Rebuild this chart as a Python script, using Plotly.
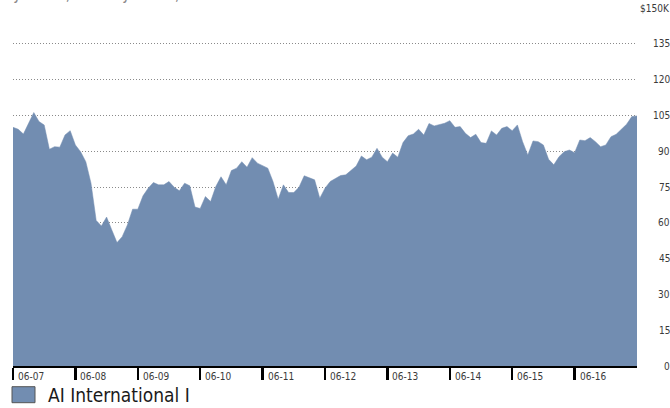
import plotly.graph_objects as go

# Monthly growth of a hypothetical $100K investment, June 2007 - June 2017 (in $K)
values = [
    100.0, 99.2, 97.2, 101.7, 106.2, 102.4, 101.0, 90.8, 91.9, 91.7,
    96.8, 98.6, 92.6, 89.8, 85.6, 76.6, 61.0, 58.7, 62.4, 57.0,
    51.7, 54.2, 59.1, 65.7, 65.7, 71.3, 74.5, 76.9, 75.9, 75.9,
    77.3, 74.9, 73.4, 76.6, 75.5, 66.6, 66.0, 71.0, 68.9, 75.2,
    79.3, 75.9, 81.9, 82.9, 85.6, 83.3, 87.3, 85.0, 83.8, 82.9,
    77.3, 69.9, 75.9, 72.7, 72.7, 74.9, 79.7, 78.7, 78.0, 70.3,
    74.5, 77.3, 78.4, 79.8, 80.1, 81.9, 83.8, 88.0, 86.4, 87.5,
    91.2, 87.5, 85.6, 89.2, 87.5, 93.6, 96.5, 97.2, 99.2, 96.8,
    101.6, 100.6, 101.0, 101.7, 102.8, 100.0, 100.3, 97.5, 95.7, 97.1,
    93.6, 93.3, 98.5, 96.8, 99.6, 100.3, 98.6, 101.0, 94.0, 88.4,
    94.3, 94.0, 92.6, 86.6, 84.3, 87.7, 89.8, 90.5, 89.4, 94.7,
    94.4, 95.7, 94.0, 91.9, 92.6, 96.1, 97.1, 99.2, 101.3, 104.5,
    104.8,
]
month_index = list(range(len(values)))

year_tick_months = [0, 12, 24, 36, 48, 60, 72, 84, 96, 108]
year_tick_labels = ["06-07", "06-08", "06-09", "06-10", "06-11",
                    "06-12", "06-13", "06-14", "06-15", "06-16"]
y_tick_values = [0, 15, 30, 45, 60, 75, 90, 105, 120, 135, 150]
y_tick_labels = ["0", "15", "30", "45", "60", "75", "90", "105", "120", "135", "$150K"]

series_name = "AI International I"
title_text = "June 30, 2007 \u2013 June 30, 2017"

AREA = "#728DB1"
FONT = "Liberation Sans Narrow, Arial Narrow, DejaVu Sans Condensed, sans-serif"

fig = go.Figure()
fig.add_trace(go.Scatter(
    x=month_index, y=values, mode="lines", fill="tozeroy",
    line=dict(color=AREA, width=0.5), fillcolor=AREA,
    name=series_name, showlegend=False, hoverinfo="skip",
))

annotations = []
for m, lab in zip(year_tick_months, year_tick_labels):
    annotations.append(dict(
        x=m, xref="x", y=0, yref="paper", text=lab, showarrow=False,
        xanchor="left", yanchor="top", xshift=3, yshift=-3,
        font=dict(family=FONT, size=10, color="#3a3a3a"),
    ))
for v, lab in zip(y_tick_values, y_tick_labels):
    annotations.append(dict(
        x=1, xref="paper", y=v, yref="y", text=lab, showarrow=False,
        xanchor="right", yanchor="middle", xshift=35,
        font=dict(family=FONT, size=10, color="#3a3a3a"),
    ))
# legend label
annotations.append(dict(
    x=(46 - 13) / 624, xref="paper", y=-(395 - 366.3) / 358, yref="paper",
    text=series_name, showarrow=False, xanchor="left", yanchor="middle",
    font=dict(family=FONT, size=19, color="#1a1a1a"),
))
# partially visible title
annotations.append(dict(
    x=0, xref="paper", y=1, yref="paper", text=title_text, showarrow=False,
    xanchor="left", yanchor="bottom", xshift=-1, yshift=2,
    font=dict(family=FONT, size=15, color="#8a8a8a"),
))

shapes = [dict(
    type="rect", xref="paper", yref="paper",
    x0=(12 - 13) / 624, x1=(35 - 13) / 624,
    y0=-(403 - 366.3) / 358, y1=-(387 - 366.3) / 358,
    fillcolor=AREA, line=dict(color="#555555", width=1),
)]

fig.update_layout(
    width=670, height=408,
    margin=dict(l=13, r=33, t=8, b=42, autoexpand=False),
    paper_bgcolor="white", plot_bgcolor="white",
    showlegend=False,
    annotations=annotations, shapes=shapes,
    xaxis=dict(
        range=[0, 120], showgrid=False, zeroline=False,
        showline=True, linecolor="black", linewidth=2,
        ticks="outside", ticklen=12, tickwidth=2.5, tickcolor="black",
        tickvals=year_tick_months, showticklabels=False, fixedrange=True,
    ),
    yaxis=dict(
        range=[0, 150], showgrid=True, gridcolor="#8a8a8a", gridwidth=1,
        griddash="1px,2px", zeroline=False, showline=False,
        tickvals=y_tick_values, showticklabels=False, ticks="", fixedrange=True,
    ),
)

fig.write_html(
    "out.html",
    config={"displayModeBar": False, "staticPlot": True},
    post_script="document.body.style.margin='0';document.body.style.overflow='hidden';",
)
